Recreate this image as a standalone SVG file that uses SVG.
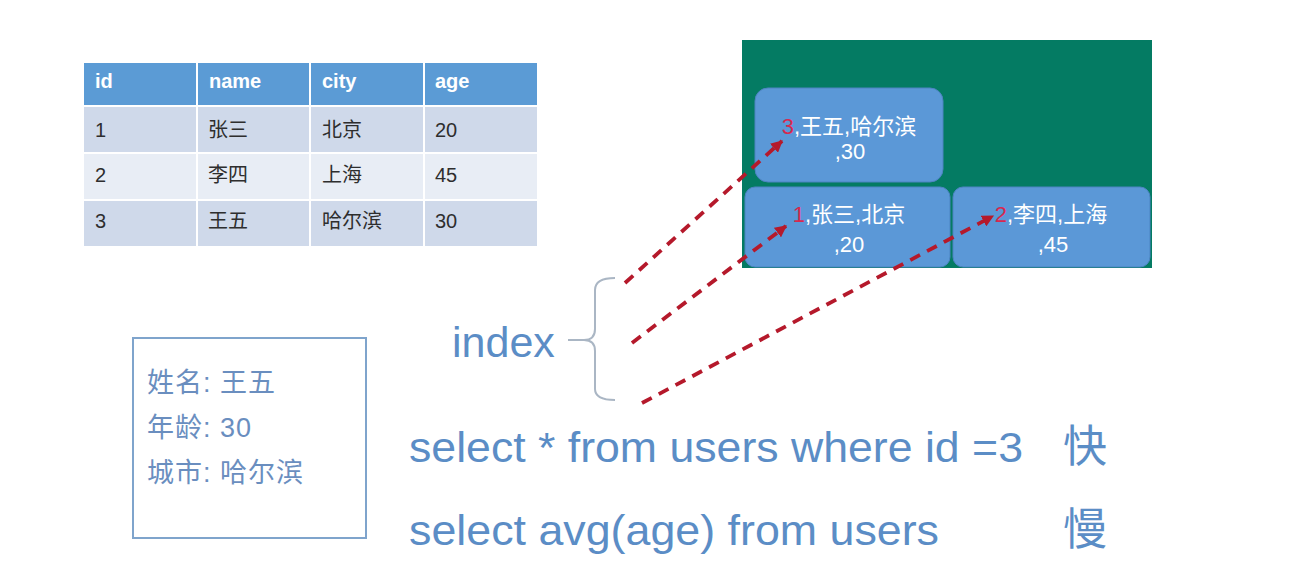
<svg xmlns="http://www.w3.org/2000/svg" width="1290" height="567" viewBox="0 0 1290 567">
<style>
.hdr{fill:#5b9bd5}
.rowA{fill:#cfd9ea}
.rowB{fill:#e8edf5}
.th{font-family:"Liberation Sans","Noto Sans CJK SC",sans-serif;font-size:20px;font-weight:bold;fill:#ffffff}
.td{font-family:"Liberation Sans","Noto Sans CJK SC",sans-serif;font-size:20px;fill:#2e2e2e}
.node{fill:#5b98d7;stroke:#4d84c2;stroke-width:1}
.nt{font-family:"Liberation Sans","Noto Sans CJK SC",sans-serif;font-size:22px;fill:#ffffff;text-anchor:middle}
.red{fill:#d8284f}
.blue{font-family:"Liberation Sans","Noto Sans CJK SC",sans-serif;fill:#5b8dc6}
.info{font-family:"Liberation Sans","Noto Sans CJK SC",sans-serif;font-size:27px;fill:#6a8ebf;letter-spacing:1px}
.dash{fill:none;stroke:#b5192b;stroke-width:3.8;stroke-dasharray:11 8;marker-end:url(#ah)}
</style>
<defs>
<marker id="ah" viewBox="0 0 10 10" refX="9" refY="5" markerWidth="12" markerHeight="12" markerUnits="userSpaceOnUse" orient="auto">
<path d="M0,0 L10,5 L0,10 z" fill="#b5192b"/>
</marker>
</defs>
<rect width="1290" height="567" fill="#ffffff"/>

<g id="table">
<rect class="hdr" x="84" y="63" width="112" height="42"/>
<rect class="hdr" x="198" y="63" width="111" height="42"/>
<rect class="hdr" x="311" y="63" width="112" height="42"/>
<rect class="hdr" x="425" y="63" width="112" height="42"/>
<rect class="rowA" x="84" y="107" width="112" height="45"/>
<rect class="rowA" x="198" y="107" width="111" height="45"/>
<rect class="rowA" x="311" y="107" width="112" height="45"/>
<rect class="rowA" x="425" y="107" width="112" height="45"/>
<rect class="rowB" x="84" y="154" width="112" height="45"/>
<rect class="rowB" x="198" y="154" width="111" height="45"/>
<rect class="rowB" x="311" y="154" width="112" height="45"/>
<rect class="rowB" x="425" y="154" width="112" height="45"/>
<rect class="rowA" x="84" y="201" width="112" height="45"/>
<rect class="rowA" x="198" y="201" width="111" height="45"/>
<rect class="rowA" x="311" y="201" width="112" height="45"/>
<rect class="rowA" x="425" y="201" width="112" height="45"/>
<text class="th" x="95" y="88">id</text>
<text class="th" x="209" y="88">name</text>
<text class="th" x="322" y="88">city</text>
<text class="th" x="435" y="88">age</text>
<text class="td" x="95" y="137">1</text>
<text class="td" x="208" y="137">张三</text>
<text class="td" x="322" y="137">北京</text>
<text class="td" x="435" y="137">20</text>
<text class="td" x="95" y="182">2</text>
<text class="td" x="208" y="182">李四</text>
<text class="td" x="322" y="182">上海</text>
<text class="td" x="435" y="182">45</text>
<text class="td" x="95" y="228">3</text>
<text class="td" x="208" y="228">王五</text>
<text class="td" x="322" y="228">哈尔滨</text>
<text class="td" x="435" y="228">30</text>
</g>

<g id="tree">
<rect x="742" y="40" width="410" height="228" fill="#047b63"/>
</g>

<g id="node3">
<rect class="node" x="755" y="88" width="188" height="94" rx="13"/>
<text class="nt" x="849" y="134"><tspan class="red">3</tspan>,王五,哈尔滨</text>
<text class="nt" x="850" y="159">,30</text>
</g>

<g id="node1">
<rect class="node" x="745" y="187" width="205" height="80" rx="10"/>
<text class="nt" x="849" y="222"><tspan class="red">1</tspan>,张三,北京</text>
<text class="nt" x="849" y="252">,20</text>
</g>

<g id="node2">
<rect class="node" x="953" y="187" width="197" height="80" rx="10"/>
<text class="nt" x="1051" y="222"><tspan class="red">2</tspan>,李四,上海</text>
<text class="nt" x="1053" y="252">,45</text>
</g>

<g id="index">
<text class="blue" x="452" y="357" font-size="43">index</text>
<path d="M568,340 L584,340 Q595,340 595,329 L595,290 Q595,278 615,278 M584,340 Q595,340 595,351 L595,389 Q595,400 615,400" fill="none" stroke="#aab6c4" stroke-width="2"/>
</g>

<g id="info">
<rect x="133" y="338" width="233" height="200" fill="#ffffff" stroke="#7fa4cc" stroke-width="2"/>
<text class="info" x="147" y="392">姓名: 王五</text>
<text class="info" x="147" y="437">年龄: 30</text>
<text class="info" x="147" y="482">城市: 哈尔滨</text>
</g>

<g id="queries">
<text class="blue" x="409" y="462" font-size="43" textLength="614" lengthAdjust="spacingAndGlyphs">select * from users where id =3</text>
<text class="blue" x="1063" y="462" font-size="44">快</text>
<text class="blue" x="409" y="545" font-size="43" textLength="530" lengthAdjust="spacingAndGlyphs">select avg(age) from users</text>
<text class="blue" x="1063" y="545" font-size="44">慢</text>
</g>

<g id="connectors">
<path class="dash" d="M625,283 L782,141"/>
<path class="dash" d="M632,343 L786,226"/>
<path class="dash" d="M642,403 L993,216"/>
</g>
</svg>
